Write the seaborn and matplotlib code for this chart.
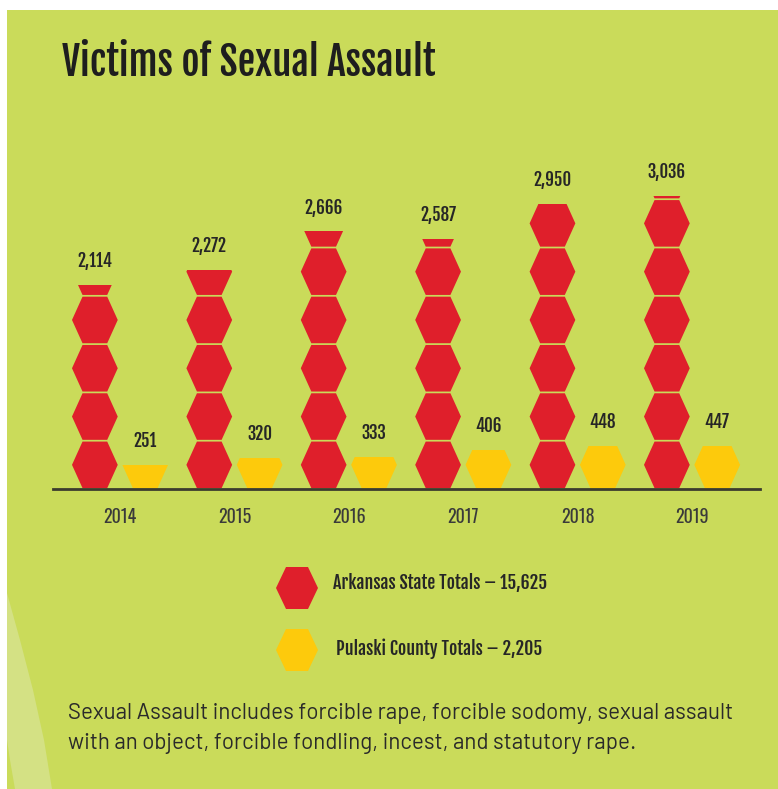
import numpy as np
import matplotlib
matplotlib.use("Agg")
import matplotlib.pyplot as plt
import matplotlib.patches as mpatches
import seaborn as sns

years = ["2014", "2015", "2016", "2017", "2018", "2019"]
state_totals = [2114, 2272, 2666, 2587, 2950, 3036]
county_totals = [251, 320, 333, 406, 448, 447]
legend_labels = ["Arkansas State Totals \u2013 15,625", "Pulaski County Totals \u2013 2,205"]
title = "Victims of Sexual Assault"
note = ("Sexual Assault includes forcible rape, forcible sodomy, sexual assault\n"
        "with an object, forcible fondling, incest, and statutory rape.")
per_hex = 500

GREEN = "#cadb5a"
LIGHT = "#d4e184"
RED = "#df1f2b"
YELLOW = "#fdca0c"
INK = "#262626"
COND = ["Oswald", "DejaVu Sans"]
HEAVY = ["Fjalla One", "Oswald", "DejaVu Sans"]
BODY = ["Barlow", "DejaVu Sans"]

sns.set_theme(style="white")
plt.rcParams["font.family"] = COND

W, H = 778, 789
fig = plt.figure(figsize=(W / 100, H / 100), dpi=100, facecolor="white")
renderer = fig.canvas.get_renderer()


def fx(px):
    return px / W


def fy(py):
    return 1 - py / H


def fit(t, width_px):
    # scale font size so the text spans the width seen in the reference
    bb = t.get_window_extent(renderer)
    t.set_fontsize(t.get_fontsize() * width_px / bb.width)
    return t.get_fontsize()


# green panel + light decorative band
fig.patches.append(mpatches.Rectangle((fx(7), 0), 1, fy(10), transform=fig.transFigure,
                                      facecolor=GREEN, edgecolor="none", zorder=-10))
band = [(7, 593), (20, 640), (33, 690), (44, 740), (52, 789), (15, 789), (10, 760), (7, 740)]
fig.patches.append(mpatches.Polygon([(fx(a), fy(b)) for a, b in band], closed=True,
                                    transform=fig.transFigure, facecolor=LIGHT,
                                    edgecolor="none", zorder=-9))

ax = fig.add_axes([fx(53), fy(489), fx(760) - fx(53), (489 - 140) / H])
ax.set_facecolor("none")
ax.set_xlim(-0.586, 5.594)
ax.set_ylim(0, 3613)

hex_w = 0.40
gap = 18


def hexagon(xc, y0, y1, w):
    ym = (y0 + y1) / 2
    return [(xc - w / 2, ym), (xc - w * 0.27, y0), (xc + w * 0.27, y0),
            (xc + w / 2, ym), (xc + w * 0.27, y1), (xc - w * 0.27, y1)]


labels = []


def stack(xc, value, color):
    clip = mpatches.Rectangle((xc - 1, 0), 2, value, transform=ax.transData,
                              facecolor="none", edgecolor="none")
    n = int(np.ceil(value / per_hex))
    for k in range(n):
        poly = mpatches.Polygon(hexagon(xc, k * per_hex + gap / 2, (k + 1) * per_hex - gap / 2, hex_w),
                                closed=True, facecolor=color, edgecolor="none", zorder=2)
        ax.add_patch(poly)
        poly.set_clip_path(clip)
    labels.append(ax.annotate(f"{value:,}", (xc, value), xytext=(0, 17), textcoords="offset points",
                              ha="center", va="center", fontsize=12, color=INK,
                              family=HEAVY))


off = 0.22
for i, yr in enumerate(years):
    stack(i - off, state_totals[i], RED)
    stack(i + off, county_totals[i], YELLOW)

fs = fit(labels[0], 35)
for t in labels:
    t.set_fontsize(fs)

ax.set_xticks(range(len(years)))
ax.set_xticklabels(years, fontsize=11, color="#3a3a3a")
ax.tick_params(axis="x", length=0, pad=14)
ax.set_yticks([])
sns.despine(ax=ax, left=True)
ax.spines["bottom"].set_color("#3b3b2e")
ax.spines["bottom"].set_linewidth(2)
fs = fit(ax.get_xticklabels()[0], 33)
for t in ax.get_xticklabels():
    t.set_fontsize(fs)

tt = fig.text(fx(62), fy(63), title, fontsize=28, color="#1e1e1e",
              va="center", ha="left", family=HEAVY)
fit(tt, 373)

# legend
leg = []
for j, (lab, col) in enumerate(zip(legend_labels, [RED, YELLOW])):
    cy = 588 + j * 62
    cx = 297
    pts = [(cx - 21, cy), (cx - 11, cy - 21), (cx + 11, cy - 21), (cx + 21, cy),
           (cx + 11, cy + 21), (cx - 11, cy + 21)]
    fig.patches.append(mpatches.Polygon([(fx(a), fy(b)) for a, b in pts], closed=True,
                                        transform=fig.transFigure, facecolor=col,
                                        edgecolor="none", zorder=3))
    leg.append(fig.text(fx(333 + 3 * j), fy(583 + 66 * j), lab, fontsize=12,
                        color=INK, va="center", ha="left", family=HEAVY))
fs = fit(leg[0], 212)
leg[1].set_fontsize(fs)

lines = note.split("\n")
t1 = fig.text(fx(68), fy(713), lines[0], fontsize=15, color="#2a2a2a", va="center",
              ha="left", family=BODY)
fs = fit(t1, 665)
fig.text(fx(68), fy(744), lines[1], fontsize=fs, color="#2a2a2a", va="center", ha="left",
         family=BODY)

fig.savefig("out.png", dpi=100, facecolor="white")
